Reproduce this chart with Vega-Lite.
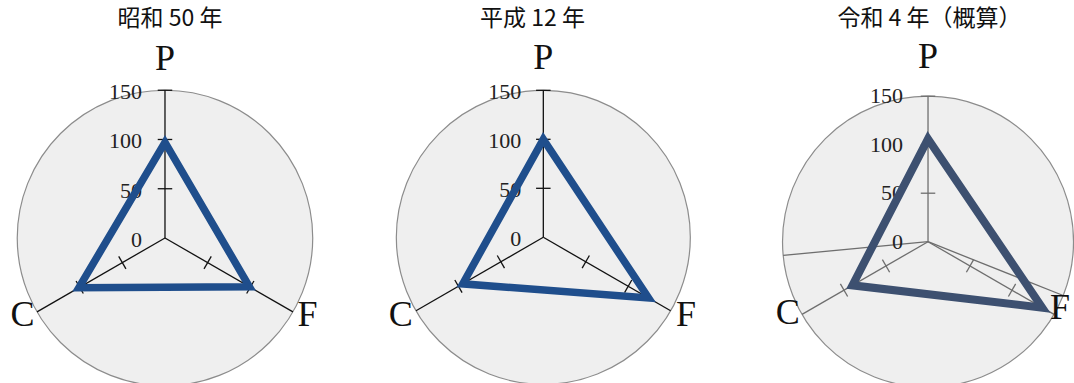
{
  "$schema": "https://vega.github.io/schema/vega-lite/v6.json",
  "padding": {"top": 8, "left": 0, "right": 0, "bottom": 0},
  "background": "white",
  "spacing": 0,
  "config": {
    "view": {"stroke": null},
    "title": {"font": "Noto Sans CJK JP", "fontSize": 23, "fontWeight": "normal", "color": "#111", "offset": 2, "anchor": "middle", "frame": "group"}
  },
  "datasets": {
    "pfc": [
      {"panel": "昭和 50 年", "axis": "P", "value": 97},
      {"panel": "昭和 50 年", "axis": "F", "value": 99},
      {"panel": "昭和 50 年", "axis": "C", "value": 101},
      {"panel": "平成 12 年", "axis": "P", "value": 100},
      {"panel": "平成 12 年", "axis": "F", "value": 124},
      {"panel": "平成 12 年", "axis": "C", "value": 95},
      {"panel": "令和 4 年（概算）", "axis": "P", "value": 106},
      {"panel": "令和 4 年（概算）", "axis": "F", "value": 136},
      {"panel": "令和 4 年（概算）", "axis": "C", "value": 90}
    ],
    "axes": [
      {"axis": "P", "deg": 90, "i": 0},
      {"axis": "F", "deg": -30, "i": 1},
      {"axis": "C", "deg": 210, "i": 2}
    ],
    "ticks": [
      {"axis": "P", "v": 50, "deg": 90}, {"axis": "P", "v": 100, "deg": 90}, {"axis": "P", "v": 150, "deg": 90},
      {"axis": "F", "v": 50, "deg": -30}, {"axis": "F", "v": 100, "deg": -30},
      {"axis": "C", "v": 50, "deg": 210}, {"axis": "C", "v": 100, "deg": 210}
    ],
    "labels": [{"v": 0}, {"v": 50}, {"v": 100}, {"v": 150}],
    "extra": [{"deg": 185.4}, {"deg": -21.7}]
  },
  "hconcat": [
    {
      "width": 354, "height": 350,
      "title": {"text": "昭和 50 年", "dx": -7},
      "layer": [
        {
          "data": {"name": "pfc"},
          "transform": [{"filter": "datum.panel == '昭和 50 年' && datum.axis == 'P'"}, {"calculate": "0", "as": "o"}],
          "mark": {"type": "point", "shape": "circle", "size": 87320, "filled": true, "fill": "#efefef", "stroke": "#8c8c8c", "strokeWidth": 1.2, "opacity": 1, "clip": true},
          "encoding": {
            "x": {"field": "o", "type": "quantitative", "scale": {"domain": [-167.5, 191.9], "nice": false, "zero": false}, "axis": null},
            "y": {"field": "o", "type": "quantitative", "scale": {"domain": [-147.2, 208.1], "nice": false, "zero": false}, "axis": null}
          }
        },
        {
          "data": {"name": "axes"},
          "transform": [
            {"calculate": "0", "as": "o"},
            {"calculate": "150 * cos(datum.deg * PI / 180)", "as": "ex"},
            {"calculate": "150 * sin(datum.deg * PI / 180)", "as": "ey"}
          ],
          "mark": {"type": "rule", "color": "#111", "strokeWidth": 1.3},
          "encoding": {
            "x": {"field": "o", "type": "quantitative"},
            "y": {"field": "o", "type": "quantitative"},
            "x2": {"field": "ex"},
            "y2": {"field": "ey"}
          }
        },
        {
          "data": {"name": "ticks"},
          "transform": [
            {"calculate": "datum.v * cos(datum.deg * PI / 180)", "as": "tx"},
            {"calculate": "datum.v * sin(datum.deg * PI / 180)", "as": "ty"},
            {"calculate": "90 - datum.deg", "as": "rot"}
          ],
          "mark": {"type": "point", "shape": "stroke", "size": 210, "filled": false, "color": "#111", "strokeWidth": 1.3, "opacity": 1},
          "encoding": {
            "x": {"field": "tx", "type": "quantitative"},
            "y": {"field": "ty", "type": "quantitative"},
            "angle": {"field": "rot", "type": "quantitative", "scale": null}
          }
        },
        {
          "data": {"name": "labels"},
          "transform": [{"calculate": "0", "as": "o"}],
          "mark": {"type": "text", "font": "Liberation Serif", "fontSize": 22, "align": "right", "baseline": "middle", "dx": -23, "dy": 2, "color": "#222"},
          "encoding": {
            "x": {"field": "o", "type": "quantitative"},
            "y": {"field": "v", "type": "quantitative"},
            "text": {"field": "v", "type": "quantitative"}
          }
        },
        {
          "data": {"name": "pfc"},
          "transform": [
            {"filter": "datum.panel == '昭和 50 年'"},
            {"lookup": "axis", "from": {"data": {"name": "axes"}, "key": "axis", "fields": ["deg", "i"]}},
            {"calculate": "datum.value * cos(datum.deg * PI / 180)", "as": "px"},
            {"calculate": "datum.value * sin(datum.deg * PI / 180)", "as": "py"}
          ],
          "mark": {"type": "line", "interpolate": "linear-closed", "color": "#1f4e8c", "strokeWidth": 7.5, "strokeJoin": "miter"},
          "encoding": {
            "x": {"field": "px", "type": "quantitative"},
            "y": {"field": "py", "type": "quantitative"},
            "order": {"field": "i", "type": "quantitative"}
          }
        },
        {
          "data": {"name": "axes"},
          "transform": [
            {"calculate": "datum.axis == 'P' ? 177 : 167", "as": "lr"},
            {"calculate": "datum.lr * cos(datum.deg * PI / 180)", "as": "lx"},
            {"calculate": "datum.lr * sin(datum.deg * PI / 180)", "as": "ly"}
          ],
          "mark": {"type": "text", "font": "Liberation Serif", "fontSize": 36, "align": "center", "baseline": "middle", "dy": -5, "color": "#111"},
          "encoding": {
            "x": {"field": "lx", "type": "quantitative"},
            "y": {"field": "ly", "type": "quantitative"},
            "text": {"field": "axis", "type": "nominal"}
          }
        }
      ]
    },
    {
      "width": 381, "height": 350,
      "title": {"text": "平成 12 年", "dx": -12},
      "layer": [
        {
          "data": {"name": "pfc"},
          "transform": [{"filter": "datum.panel == '平成 12 年' && datum.axis == 'P'"}, {"calculate": "0", "as": "o"}],
          "mark": {"type": "point", "shape": "circle", "size": 86436, "filled": true, "fill": "#efefef", "stroke": "#8c8c8c", "strokeWidth": 1.2, "opacity": 1, "clip": true},
          "encoding": {
            "x": {"field": "o", "type": "quantitative", "scale": {"domain": [-193.2, 195.6], "nice": false, "zero": false}, "axis": null},
            "y": {"field": "o", "type": "quantitative", "scale": {"domain": [-148.7, 208.5], "nice": false, "zero": false}, "axis": null}
          }
        },
        {
          "data": {"name": "axes"},
          "transform": [
            {"calculate": "0", "as": "o"},
            {"calculate": "150 * cos(datum.deg * PI / 180)", "as": "ex"},
            {"calculate": "150 * sin(datum.deg * PI / 180)", "as": "ey"}
          ],
          "mark": {"type": "rule", "color": "#111", "strokeWidth": 1.3},
          "encoding": {
            "x": {"field": "o", "type": "quantitative"},
            "y": {"field": "o", "type": "quantitative"},
            "x2": {"field": "ex"},
            "y2": {"field": "ey"}
          }
        },
        {
          "data": {"name": "ticks"},
          "transform": [
            {"calculate": "datum.v * cos(datum.deg * PI / 180)", "as": "tx"},
            {"calculate": "datum.v * sin(datum.deg * PI / 180)", "as": "ty"},
            {"calculate": "90 - datum.deg", "as": "rot"}
          ],
          "mark": {"type": "point", "shape": "stroke", "size": 210, "filled": false, "color": "#111", "strokeWidth": 1.3, "opacity": 1},
          "encoding": {
            "x": {"field": "tx", "type": "quantitative"},
            "y": {"field": "ty", "type": "quantitative"},
            "angle": {"field": "rot", "type": "quantitative", "scale": null}
          }
        },
        {
          "data": {"name": "labels"},
          "transform": [{"calculate": "0", "as": "o"}],
          "mark": {"type": "text", "font": "Liberation Serif", "fontSize": 22, "align": "right", "baseline": "middle", "dx": -22, "dy": 2, "color": "#222"},
          "encoding": {
            "x": {"field": "o", "type": "quantitative"},
            "y": {"field": "v", "type": "quantitative"},
            "text": {"field": "v", "type": "quantitative"}
          }
        },
        {
          "data": {"name": "pfc"},
          "transform": [
            {"filter": "datum.panel == '平成 12 年'"},
            {"lookup": "axis", "from": {"data": {"name": "axes"}, "key": "axis", "fields": ["deg", "i"]}},
            {"calculate": "datum.value * cos(datum.deg * PI / 180)", "as": "px"},
            {"calculate": "datum.value * sin(datum.deg * PI / 180)", "as": "py"}
          ],
          "mark": {"type": "line", "interpolate": "linear-closed", "color": "#1f4e8c", "strokeWidth": 7.5, "strokeJoin": "miter"},
          "encoding": {
            "x": {"field": "px", "type": "quantitative"},
            "y": {"field": "py", "type": "quantitative"},
            "order": {"field": "i", "type": "quantitative"}
          }
        },
        {
          "data": {"name": "axes"},
          "transform": [
            {"calculate": "datum.axis == 'P' ? 178 : 168", "as": "lr"},
            {"calculate": "datum.lr * cos(datum.deg * PI / 180)", "as": "lx"},
            {"calculate": "datum.lr * sin(datum.deg * PI / 180)", "as": "ly"}
          ],
          "mark": {"type": "text", "font": "Liberation Serif", "fontSize": 36, "align": "center", "baseline": "middle", "dy": -5, "color": "#111"},
          "encoding": {
            "x": {"field": "lx", "type": "quantitative"},
            "y": {"field": "ly", "type": "quantitative"},
            "text": {"field": "axis", "type": "nominal"}
          }
        }
      ]
    },
    {
      "width": 339, "height": 350,
      "title": {"text": "令和 4 年（概算）", "dx": 25},
      "layer": [
        {
          "data": {"name": "pfc"},
          "transform": [{"filter": "datum.panel == '令和 4 年（概算）' && datum.axis == 'P'"}, {"calculate": "0", "as": "o"}],
          "mark": {"type": "point", "shape": "circle", "size": 84681, "filled": true, "fill": "#efefef", "stroke": "#8c8c8c", "strokeWidth": 1.2, "opacity": 1, "clip": true},
          "encoding": {
            "x": {"field": "o", "type": "quantitative", "scale": {"domain": [-199, 150.5], "nice": false, "zero": false}, "axis": null},
            "y": {"field": "o", "type": "quantitative", "scale": {"domain": [-145.7, 215.2], "nice": false, "zero": false}, "axis": null}
          }
        },
        {
          "data": {"name": "extra"},
          "transform": [
            {"calculate": "0", "as": "o"},
            {"calculate": "150 * cos(datum.deg * PI / 180)", "as": "ex"},
            {"calculate": "150 * sin(datum.deg * PI / 180)", "as": "ey"}
          ],
          "mark": {"type": "rule", "color": "#6e6e6e", "strokeWidth": 1.3},
          "encoding": {
            "x": {"field": "o", "type": "quantitative"},
            "y": {"field": "o", "type": "quantitative"},
            "x2": {"field": "ex"},
            "y2": {"field": "ey"}
          }
        },
        {
          "data": {"name": "axes"},
          "transform": [
            {"calculate": "0", "as": "o"},
            {"calculate": "150 * cos(datum.deg * PI / 180)", "as": "ex"},
            {"calculate": "150 * sin(datum.deg * PI / 180)", "as": "ey"}
          ],
          "mark": {"type": "rule", "color": "#6e6e6e", "strokeWidth": 1.3},
          "encoding": {
            "x": {"field": "o", "type": "quantitative"},
            "y": {"field": "o", "type": "quantitative"},
            "x2": {"field": "ex"},
            "y2": {"field": "ey"}
          }
        },
        {
          "data": {"name": "ticks"},
          "transform": [
            {"calculate": "datum.v * cos(datum.deg * PI / 180)", "as": "tx"},
            {"calculate": "datum.v * sin(datum.deg * PI / 180)", "as": "ty"},
            {"calculate": "90 - datum.deg", "as": "rot"}
          ],
          "mark": {"type": "point", "shape": "stroke", "size": 210, "filled": false, "color": "#6e6e6e", "strokeWidth": 1.3, "opacity": 1},
          "encoding": {
            "x": {"field": "tx", "type": "quantitative"},
            "y": {"field": "ty", "type": "quantitative"},
            "angle": {"field": "rot", "type": "quantitative", "scale": null}
          }
        },
        {
          "data": {"name": "labels"},
          "transform": [{"calculate": "0", "as": "o"}],
          "mark": {"type": "text", "font": "Liberation Serif", "fontSize": 22, "align": "right", "baseline": "middle", "dx": -25, "dy": 0, "color": "#222"},
          "encoding": {
            "x": {"field": "o", "type": "quantitative"},
            "y": {"field": "v", "type": "quantitative"},
            "text": {"field": "v", "type": "quantitative"}
          }
        },
        {
          "data": {"name": "pfc"},
          "transform": [
            {"filter": "datum.panel == '令和 4 年（概算）'"},
            {"lookup": "axis", "from": {"data": {"name": "axes"}, "key": "axis", "fields": ["deg", "i"]}},
            {"calculate": "datum.value * cos(datum.deg * PI / 180)", "as": "px"},
            {"calculate": "datum.value * sin(datum.deg * PI / 180)", "as": "py"}
          ],
          "mark": {"type": "line", "interpolate": "linear-closed", "color": "#3d5070", "strokeWidth": 8, "strokeJoin": "miter"},
          "encoding": {
            "x": {"field": "px", "type": "quantitative"},
            "y": {"field": "py", "type": "quantitative"},
            "order": {"field": "i", "type": "quantitative"}
          }
        },
        {
          "data": {"name": "axes"},
          "transform": [
            {"calculate": "datum.axis == 'P' ? 180 : (datum.axis == 'F' ? 157 : 167)", "as": "lr"},
            {"calculate": "datum.lr * cos(datum.deg * PI / 180)", "as": "lx"},
            {"calculate": "datum.lr * sin(datum.deg * PI / 180)", "as": "ly"}
          ],
          "mark": {"type": "text", "font": "Liberation Serif", "fontSize": 36, "align": "center", "baseline": "middle", "dy": -10, "color": "#111"},
          "encoding": {
            "x": {"field": "lx", "type": "quantitative"},
            "y": {"field": "ly", "type": "quantitative"},
            "text": {"field": "axis", "type": "nominal"}
          }
        }
      ]
    }
  ]
}
